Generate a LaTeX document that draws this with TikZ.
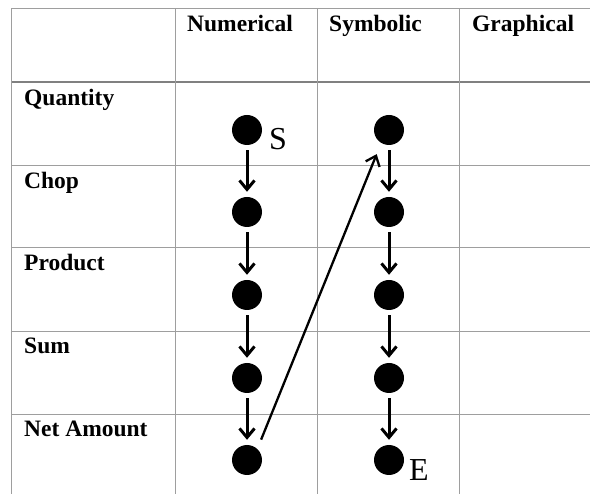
\documentclass[tikz,border=0pt]{standalone}
\usepackage{fontspec}
\setmainfont{Liberation Serif}
\usetikzlibrary{arrows.meta}

\tikzset{
  grid/.style={draw=black!38, line width=1pt},
  dot/.style={circle, fill=black, minimum size=30pt, inner sep=0pt},
  lbl/.style={anchor=base west, inner sep=0pt, font=\fontsize{23.5}{28}\selectfont\bfseries},
  tag/.style={anchor=base west, inner sep=0pt, font=\fontsize{32}{36}\selectfont},
  flow/.style={line width=3pt, -{Straight Barb[length=9pt,width=15pt]}, shorten <=5pt, shorten >=5pt}
}

\begin{document}
\begin{tikzpicture}[x=1pt, y=-1pt]
\useasboundingbox (0,0) rectangle (590,494);

% table rules
\draw[grid] (11,9) -- (590,9);
\draw[grid, draw=black!50, line width=2pt] (11,82) -- (590,82);
\draw[grid] (11,166) -- (590,166);
\draw[grid] (11,248) -- (590,248);
\draw[grid] (11,332) -- (590,332);
\draw[grid] (11,415) -- (590,415);
\draw[grid] (11,9) -- (11,494);
\draw[grid] (175,9) -- (175,494);
\draw[grid] (317,9) -- (317,494);
\draw[grid] (459,9) -- (459,494);

% headings
\node[lbl] (hnum) at (187,32) {Numerical};
\node[lbl] (hsym) at (329,32) {Symbolic};
\node[lbl] (hgra) at (472,32) {Graphical};

\node[lbl] (rqty) at (24,106) {Quantity};
\node[lbl] (rchop) at (24,189) {Chop};
\node[lbl] (rprod) at (24,271) {Product};
\node[lbl] (rsum) at (24,354) {Sum};
\node[lbl] (rnet) at (24,437) {Net Amount};

% numerical column
\node[dot] (nqty) at (247,130) {};
\node[dot] (nchop) at (247,212) {};
\node[dot] (nprod) at (247,295) {};
\node[dot] (nsum) at (247,378) {};
\node[dot] (nnet) at (247,460) {};

% symbolic column
\node[dot] (sqty) at (389,130) {};
\node[dot] (schop) at (389,212) {};
\node[dot] (sprod) at (389,295) {};
\node[dot] (ssum) at (389,378) {};
\node[dot] (snet) at (389,460) {};

\node[tag] (start) at (269,150) {S};
\node[tag] (end) at (409,481) {E};

\draw[flow] (nqty) -- (nchop);
\draw[flow] (nchop) -- (nprod);
\draw[flow] (nprod) -- (nsum);
\draw[flow] (nsum) -- (nnet);

\draw[flow] (sqty) -- (schop);
\draw[flow] (schop) -- (sprod);
\draw[flow] (sprod) -- (ssum);
\draw[flow] (ssum) -- (snet);

% jump back up to the symbolic side
\draw[flow, line width=2.3pt, shorten <=10pt, shorten >=12pt] (nnet.47) -- (sqty.239);

\end{tikzpicture}
\end{document}
